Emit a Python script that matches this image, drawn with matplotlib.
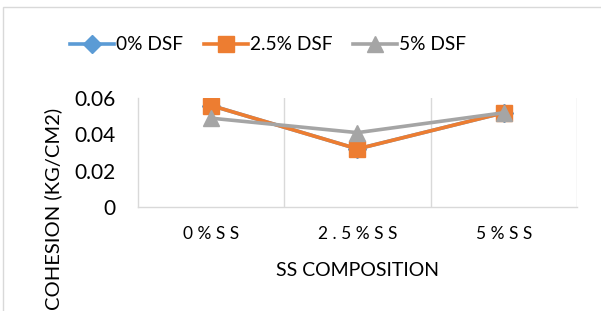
import numpy as np
import matplotlib.pyplot as plt
from matplotlib.patches import Rectangle

categories = ["0%SS", "2.5%SS", "5%SS"]
series_names = ["0% DSF", "2.5% DSF", "5% DSF"]
dsf_0 = [0.056, 0.032, 0.052]
dsf_25 = [0.056, 0.032, 0.052]
dsf_5 = [0.049, 0.041, 0.052]
y_ticks = [0, 0.02, 0.04, 0.06]
y_tick_labels = ["0", "0.02", "0.04", "0.06"]

plt.rcParams['font.family'] = ['Lato', 'DejaVu Sans']

fig = plt.figure(figsize=(6.01, 3.11), dpi=100)
ax = fig.add_axes([0.2296, 0.335, 0.7304, 0.349])

x = np.arange(len(categories))
ax.plot(x, dsf_0, color="#5B9BD5", lw=2.6, marker="D", ms=9, label=series_names[0])
ax.plot(x, dsf_25, color="#ED7D31", lw=2.6, marker="s", ms=11, label=series_names[1])
ax.plot(x, dsf_5, color="#A5A5A5", lw=2.6, marker="^", ms=11, label=series_names[2])

ax.set_xlim(-0.5, 2.5)
ax.set_ylim(0, 0.06)
ax.set_yticks(y_ticks)
ax.set_yticklabels(y_tick_labels, fontsize=15)
ax.set_xticks(x)
ax.set_xticklabels([" ".join(c) for c in categories], fontsize=12.5)
ax.tick_params(length=0)
ax.tick_params(axis='x', pad=14)
ax.tick_params(axis='y', pad=16)

for b in [0.5, 1.5, 2.5]:
    ax.axvline(b, color="#D9D9D9", lw=1, zorder=0)
for s in ["top", "right"]:
    ax.spines[s].set_visible(False)
for s in ["left", "bottom"]:
    ax.spines[s].set_color("#D9D9D9")
    ax.spines[s].set_linewidth(1)

fig.text(357 / 601, 1 - 270 / 311, "SS COMPOSITION", fontsize=14,
         ha="center", va="center")
fig.text(53 / 601, 1 - 209 / 311, "COHESION (KG/CM2)", fontsize=14.5,
         ha="center", va="center", rotation=90)

fig.legend(loc="center", bbox_to_anchor=(268 / 601, 1 - 45 / 311), ncol=3,
           frameon=False, fontsize=13.8, handlelength=2.3, columnspacing=1.1,
           handletextpad=0.1, markerscale=1.0)

fig.patches.append(Rectangle((3 / 601, -0.1), 1.2, 1.1 - 7 / 311,
                             transform=fig.transFigure, fill=False,
                             edgecolor="#D9D9D9", lw=1))

fig.savefig("out.png", dpi=100)
